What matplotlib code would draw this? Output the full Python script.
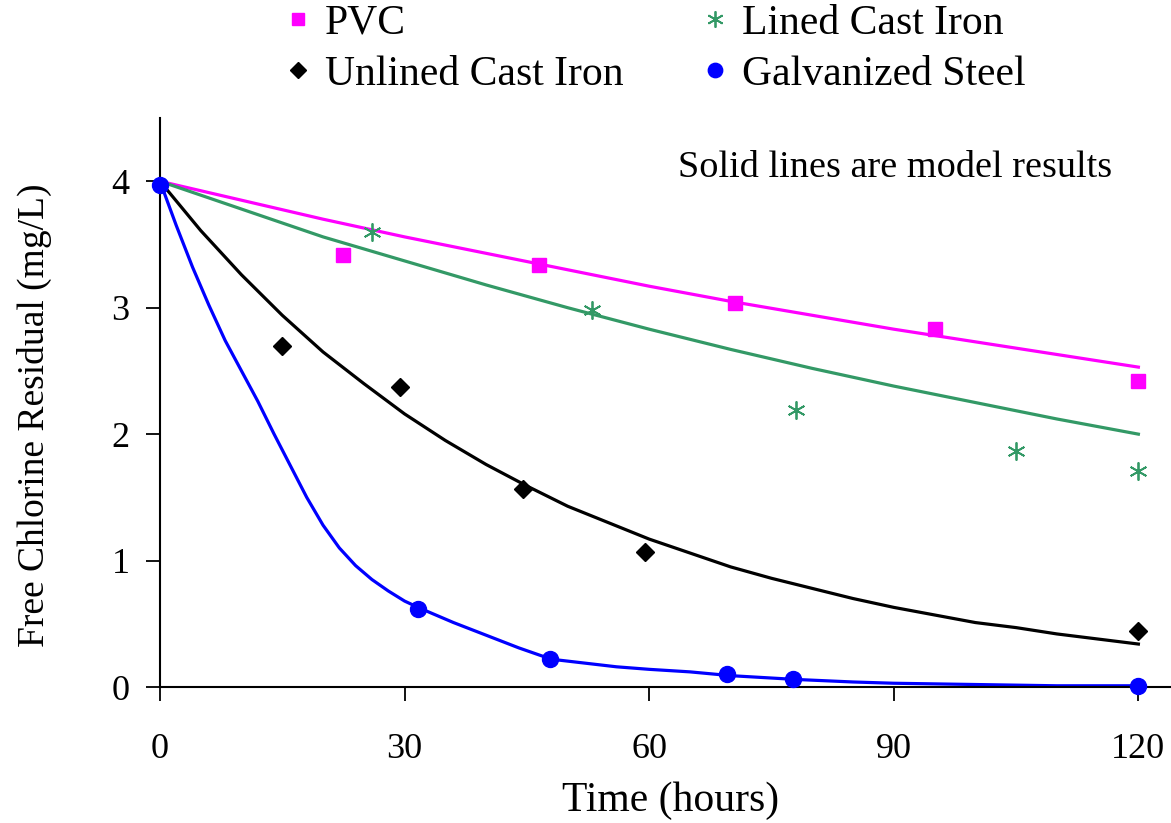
import matplotlib
matplotlib.use("Agg")
import matplotlib.pyplot as plt

plt.rcParams['font.family'] = ['Liberation Serif', 'DejaVu Serif']

# measured points (hours, mg/L)
pvc_t = [22.5, 46.5, 70.5, 95, 120]
pvc_c = [3.42, 3.34, 3.04, 2.83, 2.42]
lci_t = [26, 53, 78, 105, 120]
lci_c = [3.60, 2.98, 2.19, 1.87, 1.71]
uci_t = [15, 29.5, 44.5, 59.5, 120]
uci_c = [2.70, 2.37, 1.57, 1.07, 0.44]
gs_t = [0, 31.7, 47.8, 69.5, 77.7, 120]
gs_c = [3.97, 0.62, 0.22, 0.10, 0.06, 0.01]

# model curves
mod_t = [0, 10, 20, 30, 40, 50, 60, 70, 80, 90, 100, 110, 120]
pvc_mod = [4.00, 3.85, 3.70, 3.56, 3.43, 3.30, 3.17, 3.05, 2.94, 2.83, 2.73, 2.63, 2.53]
lci_mod = [4.00, 3.78, 3.56, 3.37, 3.18, 3.00, 2.83, 2.67, 2.52, 2.38, 2.25, 2.12, 2.00]
uci_mod_t = [0, 5, 10, 15, 20, 25, 30, 35, 40, 45, 50, 55, 60, 65, 70, 75, 80, 85, 90,
             95, 100, 105, 110, 115, 120]
uci_mod = [4.00, 3.61, 3.26, 2.94, 2.65, 2.40, 2.16, 1.95, 1.76, 1.59, 1.43, 1.30, 1.17,
           1.06, 0.95, 0.86, 0.78, 0.70, 0.63, 0.57, 0.51, 0.47, 0.42, 0.38, 0.34]
gs_mod_t = [0, 2, 4, 6, 8, 10, 12, 14, 16, 18, 20, 22, 24, 26, 28, 30, 32, 36, 40, 44, 48,
            52, 56, 60, 65, 70, 78, 85, 90, 100, 110, 120]
gs_mod = [4.00, 3.65, 3.32, 3.02, 2.74, 2.50, 2.26, 2.00, 1.75, 1.50, 1.28, 1.10, 0.96,
          0.85, 0.76, 0.68, 0.62, 0.51, 0.41, 0.31, 0.22, 0.19, 0.16, 0.14, 0.12, 0.09,
          0.06, 0.04, 0.03, 0.02, 0.01, 0.01]

c_pvc = '#FF00FF'
c_lci = '#339966'
c_uci = 'black'
c_gs = '#0000FF'

fig = plt.figure(figsize=(11.71, 8.23), dpi=100)
ax = fig.add_axes([0.1366, 0.1652, 0.8634, 0.6914])

# model lines
ax.plot(mod_t, pvc_mod, color=c_pvc, lw=2.3)
ax.plot(mod_t, lci_mod, color=c_lci, lw=2.3)
ax.plot(uci_mod_t, uci_mod, color=c_uci, lw=2.3)
ax.plot(gs_mod_t, gs_mod, color=c_gs, lw=2.3)

# data points
h1, = ax.plot(pvc_t, pvc_c, 's', color=c_pvc, ms=10, ls='none', label='PVC')
h3, = ax.plot(lci_t, lci_c, marker=(6, 2, 0), color=c_lci, mec=c_lci, mew=1.3, ms=13,
              ls='none', label='Lined Cast Iron')
h2, = ax.plot(uci_t, uci_c, 'D', color=c_uci, ms=9, ls='none', label='Unlined Cast Iron')
h4, = ax.plot(gs_t, gs_c, 'o', color=c_gs, ms=11.5, ls='none', label='Galvanized Steel',
              clip_on=False, zorder=5)

ax.set_xlim(0, 124)
ax.set_ylim(0, 4.5)
ax.set_xticks([0, 30, 60, 90, 120])
ax.set_yticks([0, 1, 2, 3, 4])

for s in ['top', 'right']:
    ax.spines[s].set_visible(False)
for s in ['left', 'bottom']:
    ax.spines[s].set_linewidth(1.5)

ax.tick_params(axis='y', direction='out', length=10, width=1.3, pad=12, labelsize=26)
ax.tick_params(axis='x', direction='out', length=10, width=1.3, pad=23, labelsize=26)

ax.set_xlabel('Time (hours)', fontsize=30)
ax.xaxis.label.set_va('center')
ax.xaxis.set_label_coords(0.505, -0.199)
ax.set_ylabel('Free Chlorine Residual (mg/L)', fontsize=27)
ax.yaxis.label.set_va('center')
ax.yaxis.set_label_coords(-0.124, 0.478)

ax.text(0.727, 0.912, 'Solid lines are model results', transform=ax.transAxes,
        ha='center', va='center', fontsize=27.5)

fig.legend(handles=[h1, h2, h3, h4], ncol=2, frameon=False, fontsize=30,
           loc='upper left', bbox_to_anchor=(0.215, 1.03), handlelength=0.8,
           handletextpad=0.25, columnspacing=1.8, labelspacing=0.3, borderpad=0.2,
           markerscale=0.9)

fig.savefig('out.png', dpi=100)
